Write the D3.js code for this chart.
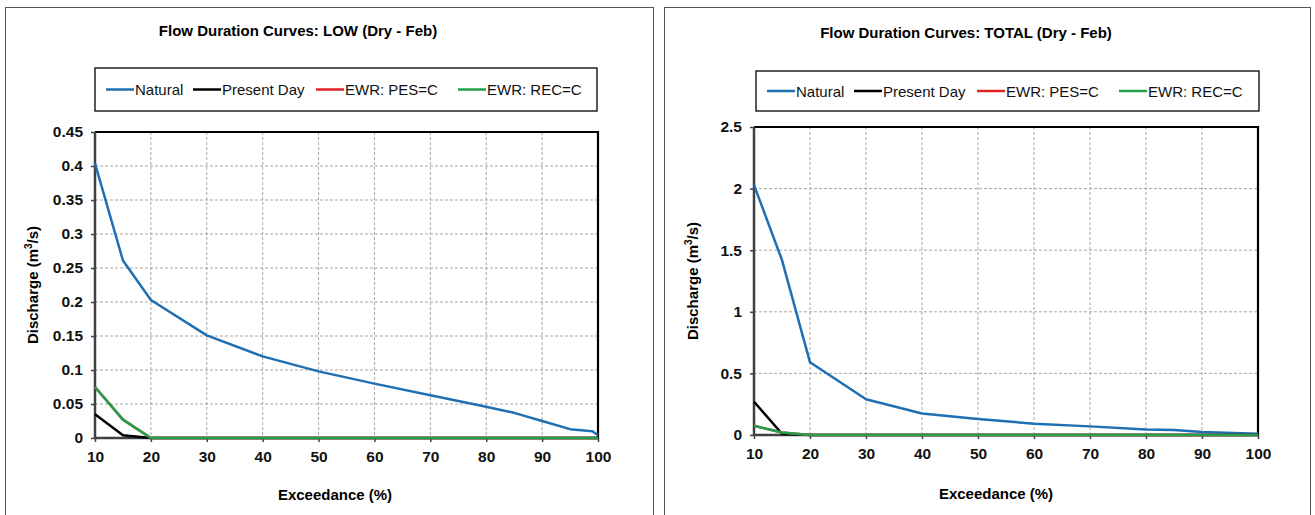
<!DOCTYPE html>
<html>
<head>
<meta charset="utf-8">
<script src="https://cdn.jsdelivr.net/npm/d3@7"></script>
<style>
  html, body { margin: 0; padding: 0; background: #fff; }
  svg { display: block; font-family: "Liberation Sans", Arial, sans-serif; }
</style>
</head>
<body>
<svg id="chart" width="1315" height="515"></svg>
<script>
// ---------- DATA ----------
const seriesNames = ["Natural", "Present Day", "EWR: PES=C", "EWR: REC=C"];
const seriesColors = ["#1f6fb2", "#000000", "#e02424", "#22a04b"];
const xTicks = [10, 20, 30, 40, 50, 60, 70, 80, 90, 100];

// LOW chart
const lowTitle = "Flow Duration Curves: LOW (Dry - Feb)";
const lowYTicks = [0, 0.05, 0.1, 0.15, 0.2, 0.25, 0.3, 0.35, 0.4, 0.45];
const lowExceed = [10, 15, 20, 30, 40, 50, 60, 70, 80, 85, 90, 95, 99, 100];
const lowNatural = [0.404, 0.261, 0.203, 0.151, 0.12, 0.098, 0.08, 0.063, 0.046, 0.037, 0.025, 0.013, 0.01, 0.004];
const lowPresent = [0.035, 0.004, 0, 0, 0, 0, 0, 0, 0, 0, 0, 0, 0, 0];
const lowPES = [0.075, 0.027, 0, 0, 0, 0, 0, 0, 0, 0, 0, 0, 0, 0];
const lowREC = [0.075, 0.027, 0, 0, 0, 0, 0, 0, 0, 0, 0, 0, 0, 0];

// TOTAL chart
const totTitle = "Flow Duration Curves: TOTAL (Dry - Feb)";
const totYTicks = [0, 0.5, 1, 1.5, 2, 2.5];
const totExceed = [10, 15, 20, 30, 40, 50, 60, 70, 80, 85, 90, 100];
const totNatural = [2.03, 1.42, 0.59, 0.29, 0.175, 0.13, 0.092, 0.07, 0.045, 0.04, 0.025, 0.01];
const totPresent = [0.27, 0.01, 0, 0, 0, 0, 0, 0, 0, 0, 0, 0];
const totPES = [0.075, 0.02, 0, 0, 0, 0, 0, 0, 0, 0, 0, 0];
const totREC = [0.075, 0.02, 0, 0, 0, 0, 0, 0, 0, 0, 0, 0];

// ---------- DRAW ----------
const svg = d3.select("#chart");

function panel(cfg) {
  const g = svg.append("g");
  // outer frame
  g.append("rect").attr("x", cfg.frame[0] + 0.5).attr("y", cfg.frame[1] + 0.5)
    .attr("width", cfg.frame[2]).attr("height", cfg.frame[3])
    .attr("fill", "#fff").attr("stroke", "#555").attr("stroke-width", 1);

  const x = d3.scaleLinear().domain([10, 100]).range([cfg.px0, cfg.px1]);
  const y = d3.scaleLinear().domain([0, cfg.yMax]).range([cfg.py1, cfg.py0]);

  // title
  g.append("text").attr("x", cfg.titleX).attr("y", cfg.titleY)
    .attr("text-anchor", "middle").attr("font-size", 15).attr("font-weight", "bold")
    .text(cfg.title);

  // legend
  const lg = g.append("g");
  lg.append("rect").attr("x", cfg.legend[0]).attr("y", cfg.legend[1])
    .attr("width", cfg.legend[2]).attr("height", cfg.legend[3])
    .attr("fill", "#fff").attr("stroke", "#000").attr("stroke-width", 1.3);
  const offs = [11, 98, 221, 363];
  const ly = cfg.legend[1] + cfg.legend[3] / 2;
  seriesNames.forEach((n, i) => {
    const lx = cfg.legend[0] + offs[i];
    lg.append("line").attr("x1", lx).attr("x2", lx + 28).attr("y1", ly).attr("y2", ly)
      .attr("stroke", seriesColors[i]).attr("stroke-width", 2.5);
    lg.append("text").attr("x", lx + 29).attr("y", ly + 5.5).attr("font-size", 15)
      .attr("fill", "#111").text(n);
  });

  // gridlines
  const grid = g.append("g").attr("stroke", "#a6a6a6").attr("stroke-width", 1)
    .attr("stroke-dasharray", "3,2");
  grid.selectAll("line.v").data(xTicks.slice(1, -1)).join("line")
    .attr("x1", d => x(d)).attr("x2", d => x(d)).attr("y1", cfg.py0).attr("y2", cfg.py1);
  grid.selectAll("line.h").data(cfg.yTicks.slice(1, -1)).join("line")
    .attr("x1", cfg.px0).attr("x2", cfg.px1).attr("y1", d => y(d)).attr("y2", d => y(d));

  // top/right border
  g.append("path")
    .attr("d", `M${cfg.px0},${cfg.py0}H${cfg.px1}V${cfg.py1}`)
    .attr("fill", "none").attr("stroke", "#000").attr("stroke-width", 2.2);

  // axes
  const yAxis = d3.axisLeft(y).tickValues(cfg.yTicks).tickSize(4).tickPadding(8)
    .tickFormat(d => String(+d.toFixed(2)));
  const ya = g.append("g").attr("transform", `translate(${cfg.px0},0)`).call(yAxis);
  const xAxis = d3.axisBottom(x).tickValues(xTicks).tickSize(4).tickPadding(9);
  const xa = g.append("g").attr("transform", `translate(0,${cfg.py1})`).call(xAxis);
  [ya, xa].forEach(a => {
    a.attr("font-size", 15).attr("font-family", "Liberation Sans, Arial, sans-serif");
    a.select(".domain").attr("stroke", "#404040").attr("stroke-width", 2.5);
    a.selectAll(".tick line").attr("stroke", "#404040").attr("stroke-width", 1.5);
    a.selectAll(".tick text").attr("font-size", 15.5).attr("font-weight", "bold")
      .attr("fill", "#111");
  });
  ya.select(".domain").attr("d", `M0,${cfg.py0}V${cfg.py1}`);
  xa.select(".domain").attr("d", `M${cfg.px0},0H${cfg.px1}`);

  // series
  const line = d3.line().x(d => x(d[0])).y(d => y(d[1]));
  cfg.series.forEach((vals, i) => {
    const pts = cfg.exceed.map((e, j) => [e, vals[j]]);
    g.append("path").datum(pts).attr("d", line)
      .attr("fill", "none").attr("stroke", seriesColors[i]).attr("stroke-width", 2.5)
      .attr("stroke-linejoin", "round");
  });

  // axis titles
  const yt = g.append("text")
    .attr("transform", `translate(${cfg.yLabelX},${(cfg.py0 + cfg.py1) / 2}) rotate(-90)`)
    .attr("text-anchor", "middle").attr("font-size", 15).attr("font-weight", "bold");
  yt.append("tspan").text("Discharge (m");
  yt.append("tspan").attr("font-size", 10).attr("dy", -6).text("3");
  yt.append("tspan").attr("dy", 6).text("/s)");

  g.append("text").attr("x", cfg.xLabelX).attr("y", cfg.xLabelY)
    .attr("text-anchor", "middle").attr("font-size", 15).attr("font-weight", "bold")
    .text("Exceedance (%)");
}

panel({
  frame: [5, 7, 648, 520],
  px0: 95, px1: 598, py0: 132, py1: 438,
  yMax: 0.45, yTicks: lowYTicks,
  title: lowTitle, titleX: 298, titleY: 36,
  legend: [95, 68, 502, 43],
  exceed: lowExceed, series: [lowNatural, lowPresent, lowPES, lowREC],
  yLabelX: 38, xLabelX: 335, xLabelY: 500
});

panel({
  frame: [664, 7, 646, 520],
  px0: 754, px1: 1258, py0: 127, py1: 435,
  yMax: 2.5, yTicks: totYTicks,
  title: totTitle, titleX: 966, titleY: 38,
  legend: [756, 71, 503, 40],
  exceed: totExceed, series: [totNatural, totPresent, totPES, totREC],
  yLabelX: 698, xLabelX: 996, xLabelY: 499
});
</script>
</body>
</html>
